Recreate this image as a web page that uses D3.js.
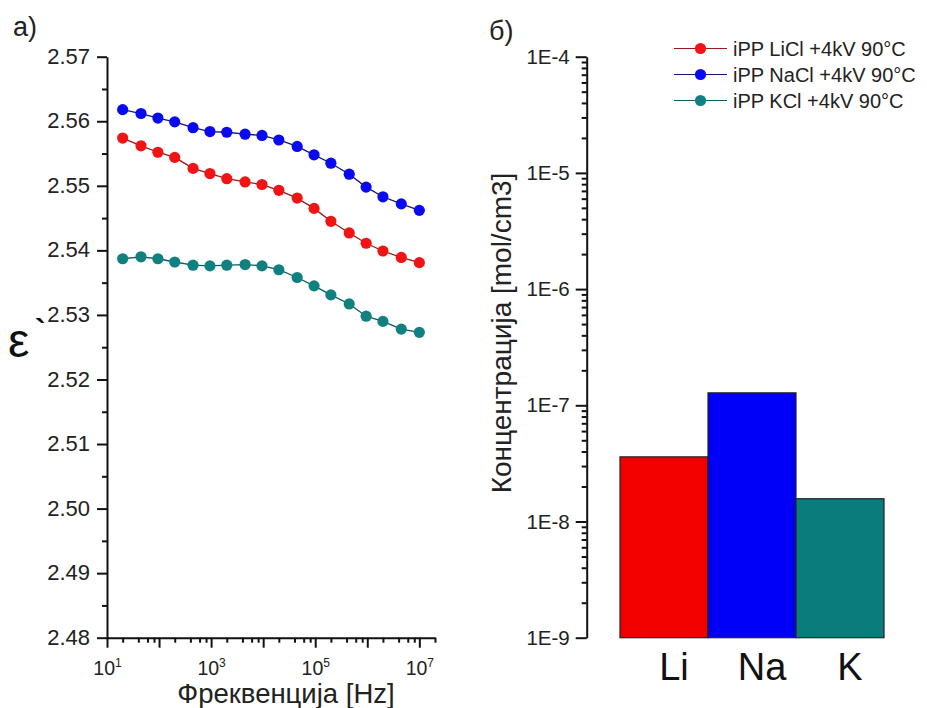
<!DOCTYPE html>
<html>
<head>
<meta charset="utf-8">
<script src="https://cdn.jsdelivr.net/npm/d3@7/dist/d3.min.js"></script>
<style>
  html, body { margin: 0; padding: 0; background: #fff; }
  svg { display: block; font-family: "Liberation Sans", Arial, sans-serif; }
  .axis path, .axis line { stroke: #111; stroke-width: 2; }
  .axis text { fill: #222; }
</style>
</head>
<body>
<svg id="chart" width="927" height="708"></svg>
<script>
// ---- data: panel a) dielectric permittivity vs frequency ----
const frequency = [20, 45, 95, 200, 450, 950, 2000, 4500, 9500, 2e4, 4.5e4, 9.5e4, 2e5, 4.5e5, 9.5e5, 2e6, 4.5e6, 1e7];
const epsLiCl = [2.5574, 2.5562, 2.5552, 2.5544, 2.5527, 2.5519, 2.5511, 2.5506, 2.5502, 2.5493, 2.5481, 2.5465, 2.5445, 2.5427, 2.5411, 2.5399, 2.5389, 2.5381];
const epsNaCl = [2.5618, 2.5612, 2.5605, 2.5599, 2.5590, 2.5584, 2.5583, 2.5580, 2.5578, 2.5571, 2.5561, 2.5548, 2.5535, 2.5518, 2.5498, 2.5483, 2.5472, 2.5462];
const epsKCl  = [2.5387, 2.5390, 2.5387, 2.5382, 2.5377, 2.5376, 2.5377, 2.5378, 2.5376, 2.5370, 2.5358, 2.5345, 2.5331, 2.5317, 2.5298, 2.5290, 2.5278, 2.5273];
const seriesNames = ["iPP LiCl +4kV 90°C", "iPP NaCl +4kV 90°C", "iPP KCl +4kV 90°C"];
const epsTicks = [2.48, 2.49, 2.50, 2.51, 2.52, 2.53, 2.54, 2.55, 2.56, 2.57];
const freqLabelExponents = [1, 3, 5, 7];

// ---- data: panel б) ion concentration ----
const ions = ["Li", "Na", "K"];
const concentration = [3.6e-8, 1.28e-7, 1.57e-8];
const concTickLabels = ["1E-9", "1E-8", "1E-7", "1E-6", "1E-5", "1E-4"];

const markerColors = ["#f01414", "#0a0af0", "#108080"];
const lineColors = ["#9a1818", "#14147a", "#0c5c5c"];
const barColors = ["#f20000", "#0000f8", "#0a7c7c"];

const svg = d3.select("#chart");

// ================= panel a) =================
const x = d3.scaleLog().domain([10, 2e7]).range([107, 435]);
const y = d3.scaleLinear().domain([2.48, 2.57]).range([637.7, 56.7]);

// y axis: minor ticks every 0.005, major every 0.01
const yMinor = d3.range(0, 19).map(i => 2.48 + i * 0.005).filter((d, i) => i % 2 === 1);
svg.append("g").attr("class", "axis").attr("transform", "translate(107,0)")
  .call(d3.axisLeft(y).tickValues(yMinor).tickSize(5).tickFormat(""))
  .call(g => g.select(".domain").remove());
svg.append("g").attr("class", "axis").attr("transform", "translate(107,0)")
  .call(d3.axisLeft(y).tickValues(epsTicks).tickSize(10).tickSizeOuter(0).tickPadding(7).tickFormat(d3.format(".2f")))
  .call(g => g.selectAll("text").style("font-size", "22px").attr("dy", "0.3em"));

// x axis: decades as major ticks, 2/4/6/8 as minor ticks
const decades = d3.range(1, 8).map(e => Math.pow(10, e));
const xMinor = [];
decades.forEach(d => [2, 4, 6, 8].forEach(m => { if (d * m <= 2e7) xMinor.push(d * m); }));
svg.append("g").attr("class", "axis").attr("transform", "translate(0,637.7)")
  .call(d3.axisBottom(x).tickValues(xMinor).tickSize(5).tickFormat(""))
  .call(g => g.select(".domain").remove());
const xAxis = svg.append("g").attr("class", "axis").attr("transform", "translate(0,637.7)")
  .call(d3.axisBottom(x).tickValues(decades).tickSize(10).tickSizeOuter(0).tickFormat(""));
xAxis.selectAll(".tick")
  .filter(d => freqLabelExponents.includes(Math.round(Math.log10(d))))
  .append("text")
  .attr("y", 37).attr("text-anchor", "middle").attr("fill", "#222")
  .style("font-size", "19.5px")
  .each(function(d) {
    const t = d3.select(this);
    t.append("tspan").text("10");
    t.append("tspan").attr("dy", "-8").style("font-size", "12px").text(Math.round(Math.log10(d)));
  });

// series lines and markers
const series = [epsLiCl, epsNaCl, epsKCl];
const line = d3.line().x((d, i) => x(frequency[i])).y(d => y(d));
series.forEach((vals, s) => {
  const g = svg.append("g");
  g.append("path").datum(vals).attr("d", line)
    .attr("fill", "none").attr("stroke", lineColors[s]).attr("stroke-width", 1.3);
  g.selectAll("circle").data(vals).join("circle")
    .attr("cx", (d, i) => x(frequency[i])).attr("cy", d => y(d)).attr("r", 5.6)
    .attr("fill", markerColors[s]);
});

// titles of panel a)
svg.append("text").attr("x", 13).attr("y", 36).style("font-size", "27px").attr("fill", "#222").text("a)");
svg.append("text").attr("x", 8).attr("y", 357).style("font-size", "48px").attr("fill", "#111").text("ε");
svg.append("text").attr("x", 35).attr("y", 341).style("font-size", "32px").style("font-weight", "bold").attr("fill", "#111").text("`");
svg.append("text").attr("x", 286).attr("y", 703).attr("text-anchor", "middle")
  .style("font-size", "27.5px").attr("fill", "#222").text("Фреквенција [Hz]");

// ================= panel б) =================
const yc = d3.scaleLog().domain([1e-9, 1e-4]).range([637.7, 56.7]);
const xb = d3.scaleBand().domain(ions).range([620, 884]).padding(0);

const concDecades = concTickLabels.map(s => +s);
const cMinor = [];
concDecades.slice(0, -1).forEach(d => d3.range(2, 10).forEach(m => cMinor.push(d * m)));
svg.append("g").attr("class", "axis").attr("transform", "translate(586.7,0)")
  .call(d3.axisLeft(yc).tickValues(cMinor).tickSize(5).tickFormat(""))
  .call(g => g.select(".domain").remove());
svg.append("g").attr("class", "axis").attr("transform", "translate(586.7,0)")
  .call(d3.axisLeft(yc).tickValues(concDecades).tickSize(11).tickSizeOuter(0).tickPadding(6)
    .tickFormat((d, i) => concTickLabels[i]))
  .call(g => g.selectAll("text").style("font-size", "20.5px").attr("dy", "0.32em"));

svg.append("g").selectAll("rect").data(ions).join("rect")
  .attr("x", d => xb(d)).attr("width", xb.bandwidth())
  .attr("y", (d, i) => yc(concentration[i]))
  .attr("height", (d, i) => yc(1e-9) - yc(concentration[i]))
  .attr("fill", (d, i) => barColors[i])
  .attr("stroke", "#222").attr("stroke-width", 1.2);

svg.append("g").selectAll("text").data(ions).join("text")
  .attr("x", d => xb(d) + xb.bandwidth() / 2 + 10).attr("y", 680)
  .attr("text-anchor", "middle").style("font-size", "38px").attr("fill", "#111")
  .text(d => d);

svg.append("text").attr("x", 489).attr("y", 40).style("font-size", "27px").attr("fill", "#222").text("б)");
svg.append("text")
  .attr("transform", "translate(511,333) rotate(-90)")
  .attr("text-anchor", "middle").style("font-size", "28px").attr("fill", "#222")
  .text("Концентрација [mol/cm3]");

// legend
const legend = svg.append("g");
seriesNames.forEach((name, i) => {
  const ly = 48.5 + i * 26;
  legend.append("line").attr("x1", 674).attr("x2", 727).attr("y1", ly).attr("y2", ly)
    .attr("stroke", lineColors[i]).attr("stroke-width", 1.2);
  legend.append("circle").attr("cx", 700.5).attr("cy", ly).attr("r", 5.6).attr("fill", markerColors[i]);
  legend.append("text").attr("x", 733).attr("y", ly).attr("dy", "0.35em")
    .style("font-size", "20px").attr("fill", "#222").text(name);
});
</script>
</body>
</html>
